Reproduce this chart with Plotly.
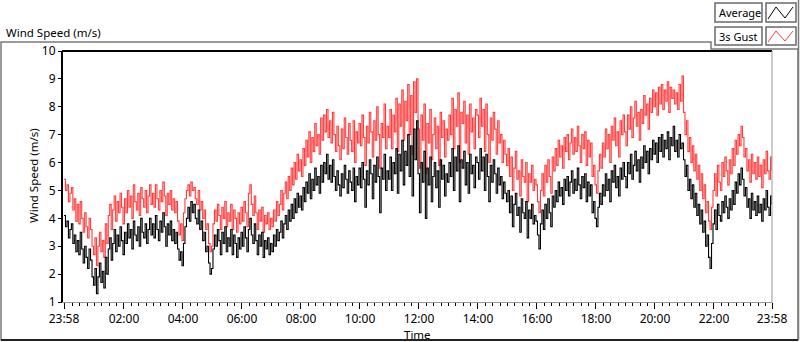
import pandas as pd
import plotly.graph_objects as go

# ---------------- data (3-minute samples) ----------------
start = "2014-06-01 23:58"
times = pd.date_range(start, periods=481, freq="3min")

average = [
    4.1, 3.7, 3.9, 3.3, 3.6, 3.8, 3.1, 3.4, 2.8, 3.2, 2.7, 3.5, 2.9, 2.4, 3.0, 2.6, 2.2, 2.9, 2.5, 1.9,
    1.6, 2.2, 1.3, 1.9, 2.4, 1.7, 2.1, 1.5, 2.6, 2.0, 2.9, 3.3, 2.5, 3.1, 3.6, 2.8, 3.4, 3.0, 3.7, 3.2,
    2.7, 3.5, 3.1, 3.8, 3.3, 3.6, 2.9, 3.9, 3.4, 3.2, 3.7, 3.0, 4.0, 3.5, 3.3, 3.8, 3.1, 3.6, 4.0, 3.4,
    3.8, 3.3, 4.1, 3.6, 3.2, 3.9, 3.5, 4.2, 3.7, 3.0, 3.8, 3.4, 3.9, 3.2, 3.6, 3.1, 3.5, 2.9, 2.5, 2.8,
    2.3, 3.1, 3.7, 4.0, 4.4, 3.9, 4.6, 4.2, 4.5, 4.0, 3.8, 4.3, 3.6, 3.9, 3.2, 3.5, 2.8, 3.0, 2.4, 2.0,
    2.2, 2.9, 3.4, 3.0, 3.6, 3.2, 2.7, 3.5, 3.1, 3.7, 2.8, 3.3, 3.0, 3.6, 2.7, 3.4, 3.1, 2.6, 3.3, 2.9,
    3.5, 3.0, 3.7, 3.3, 2.8, 3.6, 4.0, 3.4, 3.1, 3.8, 3.2, 2.7, 3.4, 3.0, 3.5, 2.6, 3.2, 2.9, 3.3, 2.7,
    3.1, 2.8, 3.4, 3.0, 3.6, 3.2, 3.5, 3.9, 3.3, 3.8, 4.1, 3.6, 4.3, 3.9, 4.5, 4.0, 4.7, 4.2, 4.9, 4.4,
    4.8, 4.3, 5.1, 4.6, 5.3, 4.9, 5.6, 4.7, 5.4, 5.0, 5.8, 5.2, 5.5, 4.9, 5.9, 5.3, 6.0, 5.6, 6.3, 5.4,
    5.9, 5.3, 6.1, 5.5, 5.0, 5.7, 5.2, 4.8, 5.6, 5.1, 5.9, 5.4, 4.9, 5.7, 5.3, 5.0, 5.8, 4.6, 5.5, 5.2,
    5.8, 5.1, 6.0, 5.4, 4.4, 5.7, 5.2, 6.1, 5.6, 4.7, 5.9, 5.3, 6.2, 5.5, 4.2, 5.8, 5.4, 6.3, 5.0, 5.7,
    5.4, 6.2, 5.0, 6.0, 5.6, 6.5, 4.9, 6.3, 5.7, 6.8, 5.2, 6.4, 5.9, 7.0, 5.5, 6.6, 4.8, 7.2, 6.1, 7.5,
    5.6, 4.2, 6.0, 5.3, 6.4, 4.0, 5.8, 5.2, 6.2, 4.6, 5.5, 6.0, 5.1, 5.7, 4.4, 6.1, 5.4, 5.9, 4.8, 5.6,
    5.3, 6.0, 5.5, 6.5, 5.0, 6.2, 5.7, 6.6, 4.6, 6.1, 5.8, 6.4, 5.2, 6.0, 4.9, 6.3, 5.6, 5.9, 5.1, 6.2,
    6.0, 5.4, 6.5, 5.7, 6.2, 5.0, 6.3, 5.5, 4.6, 5.9, 5.3, 6.1, 5.6, 4.9, 5.8, 5.2, 5.5, 4.7, 5.3, 4.9,
    4.6, 5.0, 4.2, 4.8, 3.7, 4.5, 4.9, 4.1, 4.4, 3.5, 4.7, 4.2, 4.0, 4.6, 3.3, 4.3, 4.0, 4.5, 3.8, 4.1,
    3.9, 3.4, 2.9, 3.8, 4.3, 3.6, 4.5, 4.0, 4.7, 4.2, 3.7, 4.8, 4.4, 5.0, 4.6, 5.3, 4.8, 5.1, 4.5, 5.4,
    5.0, 5.5, 4.8, 5.3, 5.7, 4.9, 5.4, 5.0, 5.8, 5.2, 4.7, 5.5, 5.1, 5.6, 4.6, 5.3, 4.8, 5.2, 4.2, 4.6,
    4.0, 3.7, 4.4, 4.9, 4.5, 5.2, 4.8, 5.6, 5.0, 5.4, 4.6, 5.7, 5.3, 5.9, 5.1, 5.5, 4.8, 5.8, 5.4, 6.0,
    5.5, 5.1, 6.0, 5.6, 6.3, 5.4, 5.9, 6.4, 5.7, 6.1, 5.3, 6.2, 5.8, 6.6, 6.0, 6.4, 5.6, 6.5, 6.1, 6.8,
    6.3, 6.7, 6.0, 6.9, 6.4, 7.0, 6.2, 6.8, 6.5, 7.1, 6.1, 6.9, 6.6, 7.3, 6.4, 6.8, 6.2, 7.0, 6.5, 6.7,
    6.1, 5.5, 5.9, 5.0, 5.4, 4.7, 5.2, 4.4, 4.9, 4.1, 4.5, 3.8, 4.3, 3.5, 3.9, 3.0, 3.4, 2.6, 2.2, 3.1,
    3.8, 4.3, 3.6, 4.5, 4.1, 3.9, 4.6, 4.2, 4.8, 4.4, 4.0, 4.7, 4.3, 5.0, 4.5, 5.3, 4.9, 5.6, 5.2, 5.8,
    5.4, 4.8, 5.1, 4.4, 4.7, 4.0, 4.9, 4.3, 4.6, 4.1, 4.8, 4.2, 4.5, 3.9, 4.7, 4.3, 5.0, 4.4, 4.1, 4.8,
    4.5,
]

gust = [
    5.4, 5.0, 5.2, 4.6, 4.9, 5.1, 4.3, 4.7, 3.9, 4.5, 3.8, 4.6, 4.0, 3.5, 4.2, 3.7, 3.3, 4.0, 3.6, 3.0,
    2.7, 3.3, 2.3, 3.0, 3.5, 2.8, 3.2, 2.6, 3.8, 3.1, 4.1, 4.5, 3.6, 4.3, 4.8, 3.9, 4.6, 4.2, 4.9, 4.4,
    3.8, 4.7, 4.2, 5.0, 4.4, 4.8, 4.0, 5.2, 4.6, 4.3, 4.9, 4.1, 5.1, 4.7, 4.4, 5.0, 4.2, 4.8, 5.2, 4.5,
    4.9, 4.4, 5.2, 4.7, 4.3, 5.0, 4.6, 5.3, 4.8, 4.1, 4.9, 4.5, 5.0, 4.3, 4.7, 4.2, 4.6, 3.9, 3.4, 3.8,
    3.2, 4.2, 4.7, 5.0, 5.2, 4.8, 5.3, 5.0, 5.1, 4.7, 4.5, 5.0, 4.3, 4.6, 4.0, 4.3, 3.6, 3.8, 3.1, 2.8,
    3.0, 3.8, 4.3, 3.9, 4.5, 4.1, 3.6, 4.4, 4.0, 4.6, 3.7, 4.2, 3.9, 4.5, 3.6, 4.3, 4.0, 3.5, 4.2, 3.8,
    4.4, 3.9, 4.6, 4.2, 3.7, 4.9, 5.2, 4.5, 4.1, 4.8, 4.2, 3.6, 4.3, 3.9, 4.4, 3.5, 4.1, 3.8, 4.2, 3.6,
    4.0, 3.7, 4.3, 3.9, 4.6, 4.1, 4.5, 5.0, 4.3, 4.9, 5.3, 4.7, 5.5, 5.0, 5.8, 5.2, 6.0, 5.4, 6.3, 5.7,
    6.1, 5.5, 6.5, 5.9, 6.8, 6.2, 7.1, 6.0, 6.9, 6.4, 7.4, 6.6, 7.0, 6.3, 7.6, 6.8, 7.7, 7.1, 7.9, 6.9,
    7.5, 6.7, 7.8, 7.0, 6.4, 7.3, 6.6, 6.1, 7.2, 6.5, 7.6, 6.9, 6.3, 7.4, 6.8, 6.4, 7.5, 6.0, 7.1, 6.7,
    7.4, 6.6, 7.7, 6.9, 5.9, 7.3, 6.7, 7.8, 7.1, 6.2, 7.5, 6.8, 8.0, 7.0, 5.8, 7.4, 6.9, 8.1, 6.5, 7.3,
    6.9, 7.9, 6.5, 7.7, 7.1, 8.3, 6.4, 8.1, 7.3, 8.6, 6.8, 8.2, 7.5, 8.8, 7.0, 8.4, 6.3, 8.9, 7.8, 9.0,
    7.2, 5.8, 7.7, 6.8, 8.1, 5.6, 7.4, 6.7, 7.9, 6.1, 7.0, 7.6, 6.5, 7.3, 5.9, 7.8, 6.9, 7.5, 6.2, 7.2,
    6.8, 7.7, 7.0, 8.3, 6.5, 7.9, 7.3, 8.5, 6.0, 7.8, 7.4, 8.2, 6.7, 7.7, 6.3, 8.1, 7.1, 7.6, 6.5, 7.9,
    7.7, 6.9, 8.3, 7.3, 7.9, 6.4, 8.1, 7.0, 6.0, 7.6, 6.8, 7.8, 7.2, 6.3, 7.5, 6.7, 7.0, 6.0, 6.8, 6.3,
    5.9, 6.5, 5.5, 6.2, 5.0, 5.8, 6.4, 5.4, 5.7, 4.8, 6.1, 5.5, 5.3, 6.0, 4.6, 5.6, 5.3, 5.9, 5.0, 5.4,
    5.2, 4.6, 4.2, 5.0, 5.6, 4.8, 5.9, 5.3, 6.1, 5.5, 4.9, 6.2, 5.7, 6.5, 5.9, 6.8, 6.2, 6.6, 5.8, 6.9,
    6.4, 7.0, 6.1, 6.7, 7.2, 6.3, 6.9, 6.4, 7.3, 6.6, 6.0, 7.0, 6.5, 7.1, 5.9, 6.8, 6.2, 6.7, 5.5, 5.9,
    5.2, 4.9, 5.7, 6.3, 5.8, 6.7, 6.2, 7.2, 6.5, 7.0, 6.0, 7.3, 6.8, 7.6, 6.6, 7.1, 6.2, 7.5, 7.0, 7.7,
    7.1, 6.6, 7.7, 7.2, 8.0, 6.9, 7.6, 8.2, 7.3, 7.8, 6.8, 7.9, 7.4, 8.4, 7.7, 8.1, 7.2, 8.3, 7.8, 8.6,
    8.0, 8.5, 7.7, 8.7, 8.1, 8.8, 7.9, 8.6, 8.2, 8.9, 7.8, 8.7, 8.3, 8.6, 8.1, 8.5, 7.9, 8.8, 8.2, 9.1,
    7.8, 7.0, 7.5, 6.4, 6.9, 6.0, 6.6, 5.7, 6.3, 5.4, 5.9, 5.0, 5.6, 4.7, 5.2, 4.2, 4.6, 3.9, 3.6, 4.4,
    5.0, 5.6, 4.8, 5.9, 5.3, 5.0, 6.0, 5.5, 6.2, 5.7, 5.2, 6.1, 5.6, 6.5, 5.9, 6.8, 6.3, 7.0, 6.6, 7.3,
    6.9, 6.2, 6.5, 5.7, 6.1, 5.3, 6.3, 5.6, 6.0, 5.4, 6.2, 5.5, 5.9, 5.1, 6.1, 5.6, 6.4, 5.7, 5.4, 6.2,
    5.7,
]

series_names = ["Average", "3s Gust"]
tick_text = ["23:58", "02:00", "04:00", "06:00", "08:00", "10:00", "12:00",
             "14:00", "16:00", "18:00", "20:00", "22:00", "23:58"]
y_ticks = [1, 2, 3, 4, 5, 6, 7, 8, 9, 10]

assert len(average) == len(times) and len(gust) == len(times)

# ---------------- figure ----------------
W, H = 800, 342
L, R, T, B = 64, 28, 51, 40
PW, PH = W - L - R, H - T - B


def px(x):
    return (x - L) / PW


def py(y):
    return (H - B - y) / PH


FONT = "Noto Sans"
FS = 11.5
RED = "#ff3d3d"

tick_vals = [times[0]] + [pd.Timestamp("2014-06-02 %02d:00" % h) for h in range(2, 23, 2)] + [times[-1]]

fig = go.Figure()
fig.add_trace(go.Scatter(x=times, y=gust, mode="lines", name=series_names[1],
                         line=dict(color=RED, width=1.1, shape="hv")))
fig.add_trace(go.Scatter(x=times, y=average, mode="lines", name=series_names[0],
                         line=dict(color="black", width=1.1, shape="hv")))

fig.update_layout(
    width=W, height=H,
    margin=dict(l=L, r=R, t=T, b=B, pad=0),
    paper_bgcolor="white", plot_bgcolor="white",
    showlegend=False,
    font=dict(family=FONT, size=FS, color="black"),
    xaxis=dict(
        range=[times[0], times[-1]], tickmode="array", tickvals=tick_vals, ticktext=tick_text,
        showgrid=False, zeroline=False, showline=False,
        ticks="outside", ticklen=6, tickcolor="black", tickwidth=1,
        tickfont=dict(family=FONT, size=12, color="black"),
        minor=dict(ticks="outside", ticklen=3, tickcolor="black", tickwidth=1,
                   tick0="2014-06-02 00:00", dtick=15 * 60 * 1000, showgrid=False),
    ),
    yaxis=dict(
        range=[1, 10], tickmode="array", tickvals=y_ticks,
        showgrid=False, zeroline=False, showline=False,
        ticks="outside", ticklen=5, tickcolor="black", tickwidth=1,
        tickfont=dict(family=FONT, size=12, color="black"),
    ),
)

shapes = []
# plot-area frame: dark top/left, grey bottom/right
shapes.append(dict(type="line", xref="paper", yref="paper", x0=px(62), x1=px(772), y0=py(51), y1=py(51),
                   line=dict(color="black", width=2)))
shapes.append(dict(type="line", xref="paper", yref="paper", x0=px(62), x1=px(62), y0=py(51), y1=py(303),
                   line=dict(color="black", width=2)))
shapes.append(dict(type="line", xref="paper", yref="paper", x0=px(62), x1=px(772), y0=py(302.5), y1=py(302.5),
                   line=dict(color="#9a9a9a", width=1)))
shapes.append(dict(type="line", xref="paper", yref="paper", x0=px(772), x1=px(772), y0=py(51), y1=py(303),
                   line=dict(color="#9a9a9a", width=1)))
# outer panel frame
frame_path = "M {a},{b} L {a},{c} L {d},{c} L {d},{e} L {f},{e} L {f},{b} Z".format(
    a=px(1), b=py(340), c=py(42), d=px(711), e=py(49), f=px(798))
shapes.append(dict(type="path", xref="paper", yref="paper", path=frame_path,
                   line=dict(color="#7a7a7a", width=1.5)))
shapes.append(dict(type="line", xref="paper", yref="paper", x0=px(1), x1=px(798), y0=py(340), y1=py(340),
                   line=dict(color="#222222", width=2)))
shapes.append(dict(type="line", xref="paper", yref="paper", x0=px(798.5), x1=px(798.5), y0=py(0), y1=py(340),
                   line=dict(color="#7a7a7a", width=1.5)))

# legend boxes
legend_rows = [(3, 22, "black", series_names[0]), (27, 45, RED, series_names[1])]
annotations = []
for (top, bot, col, name) in legend_rows:
    shapes.append(dict(type="rect", xref="paper", yref="paper", x0=px(715), x1=px(762), y0=py(bot), y1=py(top),
                       line=dict(color="#6a6a6a", width=1.5), fillcolor="white"))
    shapes.append(dict(type="rect", xref="paper", yref="paper", x0=px(766), x1=px(796), y0=py(bot), y1=py(top),
                       line=dict(color="#6a6a6a", width=1.5), fillcolor="white"))
    zz = "M {},{} L {},{} L {},{} L {},{}".format(
        px(768), py(bot - 3), px(776), py(top + 4), px(785), py(bot - 4), px(793), py(top + 4))
    shapes.append(dict(type="path", xref="paper", yref="paper", path=zz, line=dict(color=col, width=1)))
    annotations.append(dict(xref="paper", yref="paper", x=px(717), y=py((top + bot) / 2), text=name,
                            showarrow=False, xanchor="left", yanchor="middle",
                            font=dict(family=FONT, size=11, color="black")))

annotations.append(dict(xref="paper", yref="paper", x=px(4), y=py(32), text="Wind Speed (m/s)",
                        showarrow=False, xanchor="left", yanchor="middle",
                        font=dict(family=FONT, size=FS, color="black")))
annotations.append(dict(xref="paper", yref="paper", x=px(33), y=py(176), text="Wind Speed (m/s)",
                        textangle=-90, showarrow=False, xanchor="center", yanchor="middle",
                        font=dict(family=FONT, size=FS, color="black")))
annotations.append(dict(xref="paper", yref="paper", x=px(417), y=py(334), text="Time",
                        showarrow=False, xanchor="center", yanchor="middle",
                        font=dict(family=FONT, size=FS, color="black")))

fig.update_layout(shapes=shapes, annotations=annotations)
fig.write_html("out.html", config={"displayModeBar": False},
               post_script="document.body.style.margin='0';")
